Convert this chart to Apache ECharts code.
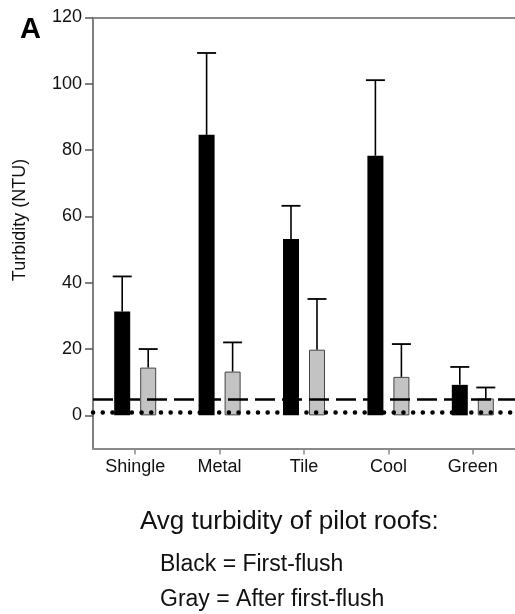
<!DOCTYPE html>
<html><head><meta charset="utf-8">
<script src="https://cdn.jsdelivr.net/npm/echarts@6/dist/echarts.min.js"></script>
<style>html,body{margin:0;padding:0;background:#fff}#c{width:515px;height:614px}</style>
</head><body><div id="c"></div>
<script>
const categories = ['Shingle', 'Metal', 'Tile', 'Cool', 'Green'];
const firstFlushMean = [31.3, 84.6, 53.2, 78.3, 9.2];
const firstFlushSD = [10.6, 24.7, 10.0, 22.8, 5.4];
const afterFlushMean = [14.4, 13.2, 19.8, 11.6, 5.1];
const afterFlushSD = [5.6, 8.8, 15.3, 9.9, 3.3];
const yTicks = [0, 20, 40, 60, 80, 100, 120];
const refDashed = 5;
const refDotted = 1;

const FONT = '"Liberation Sans", Arial, Helvetica, sans-serif';
const BAR_W = 16;
const BAR_GAP_PX = 10;
const OFFSET = (BAR_W + BAR_GAP_PX) / 2;

function errRender(offset) {
  return function (params, api) {
    const i = api.value(0);
    const p0 = api.coord([i, api.value(1)]);
    const p1 = api.coord([i, api.value(2)]);
    const x = p0[0] + offset;
    return {
      type: 'group',
      children: [
        { type: 'line', shape: { x1: x, y1: p0[1], x2: x, y2: p1[1] }, style: { stroke: '#000', lineWidth: 1.6 } },
        { type: 'line', shape: { x1: x - 9.5, y1: p1[1], x2: x + 9.5, y2: p1[1] }, style: { stroke: '#000', lineWidth: 1.8 } }
      ]
    };
  };
}

const chart = echarts.init(document.getElementById('c'), null, { renderer: 'canvas' });
chart.setOption({
  animation: false,
  backgroundColor: '#fff',
  textStyle: { fontFamily: FONT },
  grid: { left: 93, top: 17.5, width: 430, bottom: 165.5, containLabel: false },
  xAxis: [{
    type: 'category',
    data: categories,
    position: 'bottom',
    axisLine: { show: true, onZero: false, lineStyle: { color: '#8a8a8a', width: 2 } },
    axisTick: { show: true, alignWithLabel: true, length: 6, lineStyle: { color: '#8a8a8a', width: 1.5 } },
    axisLabel: { color: '#111', fontSize: 18, fontFamily: FONT, margin: 10 },
    splitLine: { show: false }
  }, {
    type: 'category',
    data: categories,
    position: 'top',
    axisLine: { show: true, onZero: false, lineStyle: { color: '#8a8a8a', width: 2 } },
    axisTick: { show: false },
    axisLabel: { show: false },
    splitLine: { show: false }
  }],
  yAxis: {
    type: 'value',
    min: -10,
    max: 120,
    axisLine: { show: true, onZero: false, lineStyle: { color: '#555', width: 1.5 } },
    axisTick: { show: true, length: 8, customValues: yTicks, lineStyle: { color: '#555', width: 1.5 } },
    axisLabel: { color: '#111', fontSize: 18, fontFamily: FONT, margin: 11, customValues: yTicks },
    splitLine: { show: false }
  },
  graphic: [
    { type: 'text', left: 20, top: 15, style: { text: 'A', font: 'bold 29px ' + FONT, fill: '#000' } },
    { type: 'text', x: 20, y: 220, rotation: Math.PI / 2, style: { text: 'Turbidity (NTU)', font: '18px ' + FONT, fill: '#111', align: 'center', verticalAlign: 'middle' } },
    { type: 'text', x: 140, y: 509, style: { text: 'Avg turbidity of pilot roofs:', font: '26px ' + FONT, fill: '#111', verticalAlign: 'top' } },
    { type: 'text', x: 160, y: 553, style: { text: 'Black = First-flush', font: '23px ' + FONT, fill: '#111', verticalAlign: 'top' } },
    { type: 'text', x: 160, y: 588, style: { text: 'Gray = After first-flush', font: '23px ' + FONT, fill: '#111', verticalAlign: 'top' } }
  ],
  series: [
    {
      name: 'First-flush', type: 'bar', data: firstFlushMean, barWidth: BAR_W,
      barGap: (BAR_GAP_PX / BAR_W * 100) + '%',
      itemStyle: { color: '#000' }, z: 2
    },
    {
      name: 'After first-flush', type: 'bar', data: afterFlushMean, barWidth: BAR_W,
      barGap: (BAR_GAP_PX / BAR_W * 100) + '%',
      itemStyle: { color: '#c3c3c3', borderColor: '#444', borderWidth: 1 }, z: 2
    },
    {
      type: 'custom', name: 'errFirst', z: 3,
      renderItem: errRender(-OFFSET),
      encode: { x: 0, y: [1, 2] },
      data: firstFlushMean.map((m, i) => [i, m, m + firstFlushSD[i]])
    },
    {
      type: 'custom', name: 'errAfter', z: 3,
      renderItem: errRender(OFFSET),
      encode: { x: 0, y: [1, 2] },
      data: afterFlushMean.map((m, i) => [i, m, m + afterFlushSD[i]])
    },
    {
      type: 'line', data: [], z: 5,
      markLine: {
        silent: true, symbol: 'none', label: { show: false },
        data: [
          { yAxis: refDashed, lineStyle: { color: '#000', width: 2.5, type: [20, 7] } },
          { yAxis: refDotted, lineStyle: { color: '#000', width: 4.5, type: [0.1, 9.6], cap: 'round' } }
        ]
      }
    }
  ]
});
</script>
</body></html>
